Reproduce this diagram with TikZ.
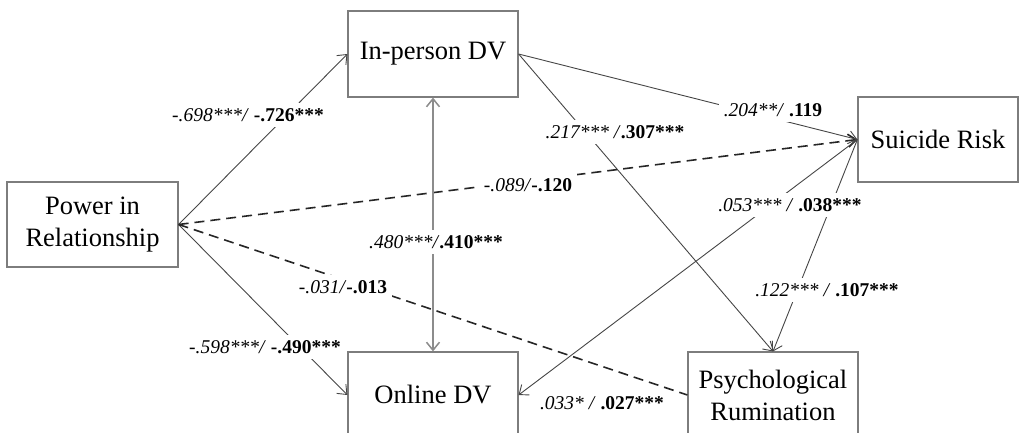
\documentclass[tikz,border=0pt]{standalone}
\usepackage{fontspec}
\setmainfont{Liberation Serif}
\usetikzlibrary{arrows.meta}

\definecolor{linegray}{RGB}{70,70,70}
\definecolor{boxgray}{RGB}{125,125,125}
\definecolor{bigray}{RGB}{140,140,140}

\tikzset{
  box/.style={draw=boxgray, line width=1.2pt, minimum width=170pt,
    minimum height=86pt, align=center, inner sep=0pt,
    font=\fontsize{26.5}{32}\selectfont},
  coef/.style={fill=white, inner sep=5pt, font=\fontsize{19.5}{22}\selectfont},
  path/.style={draw=linegray, line width=0.9pt,
    -{Straight Barb[length=8pt,width=13pt]}},
  dashpath/.style={draw=black!85, line width=1.6pt, dash pattern=on 10pt off 6pt},
  bipath/.style={draw=bigray, line width=1.5pt,
    {Straight Barb[length=8pt,width=13pt]}-{Straight Barb[length=8pt,width=13pt]}}
}

\begin{document}
\begin{tikzpicture}[x=1pt,y=1pt]
\useasboundingbox (0,0) rectangle (1020,432);

% variables
\node[box] (inperson) at (433,378) {In-person DV};
\node[box, minimum width=160pt, minimum height=85pt] (suicide) at (938,292.5) {Suicide Risk};
\node[box, minimum width=171pt, minimum height=85pt] (power) at (92.5,207.5) {Power in\\Relationship};
\node[box] (online) at (433,37) {Online DV};
\node[box] (rumin) at (773,37) {Psychological\\Rumination};

% paths
\draw[path] (power.east) -- (inperson.west);
\draw[path] (power.east) -- (online.west);
\draw[dashpath, -{Straight Barb[length=8pt,width=13pt]}] (power.east) -- (suicide.west);
\draw[dashpath] (power.east) -- (rumin.west);
\draw[path] (inperson.east) -- (suicide.west);
\draw[path] (inperson.east) -- (rumin.north);
\draw[bipath] (inperson.south) -- (online.north);
\draw[path] (suicide.west) -- (online.east);
\draw[path] (suicide.west) -- (rumin.north);

% coefficients
\node[coef] (cpi) at (248,317) {\textit{-.698***/} \textbf{-.726***}};
\node[coef] (cis) at (773,322) {\textit{.204**/} \textbf{.119}};
\node[coef] (cir) at (615,300) {\textit{.217*** /}\textbf{.307***}};
\node[coef] (cps) at (528,247) {\textit{-.089/}\textbf{-.120}};
\node[coef] (cos) at (790,227) {\textit{.053*** /} \textbf{.038***}};
\node[coef] (cio) at (436,190) {\textit{.480***/}\textbf{.410***}};
\node[coef] (cpr) at (343,145) {\textit{-.031/}\textbf{-.013}};
\node[coef] (cpo) at (265,85) {\textit{-.598***/} \textbf{-.490***}};
\node[coef] (crs) at (827,142) {\textit{.122*** /} \textbf{.107***}};
\node[coef] (cor) at (602,29) {\textit{.033* /} \textbf{.027***}};
\end{tikzpicture}
\end{document}
